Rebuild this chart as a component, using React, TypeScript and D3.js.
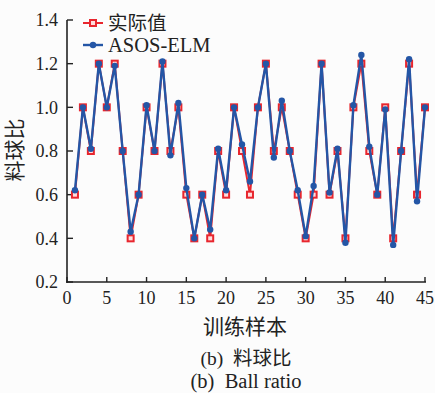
import React from "react";
import * as d3 from "d3";

const samples: number[] = Array.from({ length: 45 }, (_, i) => i + 1);
const actual: number[] = [
  0.6, 1.0, 0.8, 1.2, 1.0, 1.2, 0.8, 0.4, 0.6, 1.0,
  0.8, 1.2, 0.8, 1.0, 0.6, 0.4, 0.6, 0.4, 0.8, 0.6,
  1.0, 0.8, 0.6, 1.0, 1.2, 0.8, 1.0, 0.8, 0.6, 0.4,
  0.6, 1.2, 0.6, 0.8, 0.4, 1.0, 1.2, 0.8, 0.6, 1.0,
  0.4, 0.8, 1.2, 0.6, 1.0,
];
const predicted: number[] = [
  0.62, 1.0, 0.81, 1.2, 1.0, 1.19, 0.8, 0.43, 0.6, 1.01,
  0.8, 1.21, 0.78, 1.02, 0.63, 0.4, 0.6, 0.44, 0.81, 0.62,
  1.0, 0.83, 0.66, 1.0, 1.2, 0.77, 1.03, 0.8, 0.62, 0.41,
  0.64, 1.2, 0.61, 0.81, 0.38, 1.01, 1.24, 0.82, 0.6, 0.99,
  0.37, 0.8, 1.22, 0.57, 1.0,
];
const xTicks: number[] = [0, 5, 10, 15, 20, 25, 30, 35, 40, 45];
const yTicks: number[] = [0.2, 0.4, 0.6, 0.8, 1.0, 1.2, 1.4];
const seriesNames: string[] = ["实际值", "ASOS-ELM"];

const RED = "#e8262e";
const BLUE = "#2456a6";
const FONT = "'Liberation Serif', 'Times New Roman', 'Noto Sans CJK SC', serif";

export default function App() {
  const W = 435, H = 393;
  const x = d3.scaleLinear().domain([0, 45]).range([67, 425]);
  const y = d3.scaleLinear().domain([0.2, 1.4]).range([282, 20]);
  const line = d3
    .line<number>()
    .x((_, i) => x(samples[i]))
    .y((d) => y(d));
  const S = 6;

  return (
    <div style={{ position: "absolute", left: 0, top: 0 }}>
      <svg width={W} height={H} style={{ display: "block", background: "#fcfcfc" }} fontFamily={FONT}>
        {/* axes */}
        <line x1={x(0)} x2={x(0)} y1={y(1.4)} y2={y(0.2) + 1} stroke="#222" strokeWidth={1.6} />
        <line x1={x(0) - 0.8} x2={x(45) + 1} y1={y(0.2)} y2={y(0.2)} stroke="#222" strokeWidth={1.6} />
        {yTicks.map((t) => (
          <g key={"y" + t}>
            <line x1={x(0)} x2={x(0) + 6} y1={y(t)} y2={y(t)} stroke="#222" strokeWidth={1.4} />
            <text x={58} y={y(t)} dy="0.35em" textAnchor="end" fontSize={18} fill="#222">
              {t.toFixed(1)}
            </text>
          </g>
        ))}
        {xTicks.map((t) => (
          <g key={"x" + t}>
            <line x1={x(t)} x2={x(t)} y1={y(0.2)} y2={y(0.2) - 5} stroke="#222" strokeWidth={1.4} />
            <text x={x(t)} y={304} textAnchor="middle" fontSize={18} fill="#222">
              {t}
            </text>
          </g>
        ))}
        {/* titles */}
        <text
          transform={`translate(22,150) rotate(-90)`}
          textAnchor="middle"
          fontSize={21}
          fill="#222"
        >
          料球比
        </text>
        <text x={245} y={334} textAnchor="middle" fontSize={21} fill="#222">
          训练样本
        </text>
        <text x={246} y={365} textAnchor="middle" fontSize={19.5} fill="#222" style={{ whiteSpace: "pre" }}>
          {"(b)  料球比"}
        </text>
        <text x={246} y={388} textAnchor="middle" fontSize={20.5} fill="#222" style={{ whiteSpace: "pre" }}>
          {"(b)  Ball ratio"}
        </text>

        {/* actual series */}
        <path d={line(actual) || ""} fill="none" stroke={RED} strokeWidth={2} />
        {actual.map((v, i) => (
          <rect
            key={"a" + i}
            x={x(samples[i]) - S / 2}
            y={y(v) - S / 2}
            width={S}
            height={S}
            fill="#fdd"
            stroke={RED}
            strokeWidth={2}
          />
        ))}
        {/* predicted series */}
        <path d={line(predicted) || ""} fill="none" stroke={BLUE} strokeWidth={2.4} />
        {predicted.map((v, i) => (
          <circle key={"p" + i} cx={x(samples[i])} cy={y(v)} r={3.2} fill={BLUE} />
        ))}

        {/* legend */}
        <g>
          <line x1={83} x2={103} y1={23} y2={23} stroke={RED} strokeWidth={2} />
          <rect x={93 - S / 2} y={23 - S / 2} width={S} height={S} fill="#fdd" stroke={RED} strokeWidth={2} />
          <text x={108} y={23} dy="0.35em" fontSize={19.5} fill="#222">
            {seriesNames[0]}
          </text>
          <line x1={83} x2={103} y1={45} y2={45} stroke={BLUE} strokeWidth={2.4} />
          <circle cx={93} cy={45} r={3.2} fill={BLUE} />
          <text x={108} y={45} dy="0.35em" fontSize={20.5} fill="#222">
            {seriesNames[1]}
          </text>
        </g>
      </svg>
    </div>
  );
}
